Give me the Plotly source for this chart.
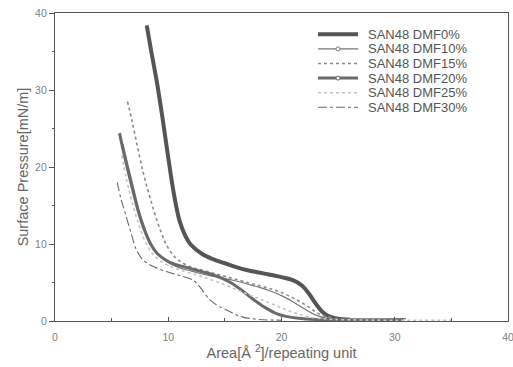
import plotly.graph_objects as go

names = ["SAN48 DMF0%", "SAN48 DMF10%", "SAN48 DMF15%", "SAN48 DMF20%", "SAN48 DMF25%", "SAN48 DMF30%"]

x0 = [8.1, 8.5, 9.0, 9.5, 10.0, 10.5, 11.0, 11.5, 12.0, 13.0, 14.0, 15.0, 16.0, 17.0, 18.0, 19.0, 20.0, 21.0, 21.8, 22.4, 23.0, 23.6, 24.2, 25.0, 26.0]
y0 = [38.4, 35.0, 31.0, 26.3, 21.2, 16.5, 13.0, 11.1, 9.9, 8.7, 8.0, 7.5, 7.0, 6.6, 6.3, 6.0, 5.7, 5.3, 4.6, 3.6, 2.3, 1.2, 0.6, 0.3, 0.2]

x10 = [6.0, 6.4, 6.9, 7.4, 8.0, 8.6, 9.3, 10.0, 11.0, 12.0, 13.0, 14.0, 15.0, 16.0, 17.0, 18.0, 19.0, 20.0, 21.0, 22.0, 23.0, 24.0, 26.0, 28.0, 31.0]
y10 = [23.0, 20.5, 17.5, 14.5, 11.8, 9.8, 8.4, 7.6, 6.9, 6.5, 6.1, 5.8, 5.5, 5.2, 4.8, 4.4, 3.9, 3.3, 2.5, 1.6, 0.8, 0.35, 0.15, 0.1, 0.3]

x15 = [6.4, 6.8, 7.3, 7.8, 8.3, 8.8, 9.3, 9.8, 10.4, 11.0, 12.0, 13.0, 14.0, 15.0, 16.0, 17.0, 18.0, 19.0, 20.0, 21.0, 22.0, 22.8, 23.5, 24.5, 26.0, 28.0]
y15 = [28.5, 26.0, 22.5, 19.2, 16.5, 14.0, 11.8, 10.0, 8.6, 7.8, 7.0, 6.6, 6.2, 5.8, 5.4, 5.0, 4.6, 4.2, 3.7, 3.0, 2.2, 1.4, 0.8, 0.4, 0.2, 0.1]

x20 = [5.7, 6.0, 6.4, 6.9, 7.4, 7.9, 8.4, 9.0, 9.7, 10.5, 11.5, 12.5, 13.5, 14.5, 15.5, 16.3, 17.0, 17.8, 18.6, 19.5, 20.4, 21.5, 23.0, 26.0, 30.8]
y20 = [24.4, 22.3, 19.8, 16.8, 14.0, 11.8, 10.1, 8.8, 8.0, 7.4, 7.0, 6.6, 6.2, 5.7, 5.0, 4.2, 3.4, 2.5, 1.7, 1.0, 0.6, 0.35, 0.2, 0.15, 0.2]

x25 = [5.9, 6.3, 6.8, 7.4, 8.0, 8.7, 9.5, 10.5, 11.5, 12.5, 13.5, 14.5, 15.5, 16.5, 17.5, 18.5, 19.5, 20.5, 21.5, 22.5, 24.0, 26.0, 30.0, 35.0]
y25 = [21.5, 18.5, 15.5, 12.5, 10.2, 8.6, 7.6, 6.9, 6.4, 6.0, 5.5, 5.0, 4.4, 3.8, 3.2, 2.6, 2.0, 1.4, 0.9, 0.5, 0.25, 0.15, 0.1, 0.1]

x30 = [5.5, 5.8, 6.2, 6.7, 7.2, 7.8, 8.8, 9.9, 11.0, 12.2, 12.8, 13.7, 14.5, 15.2, 16.0, 16.6, 18.0, 20.0]
y30 = [18.0, 16.0, 14.0, 11.5, 9.2, 7.9, 7.0, 6.4, 5.9, 5.3, 4.4, 2.7, 1.9, 1.4, 0.8, 0.5, 0.2, 0.1]

xs = [x0, x10, x15, x20, x25, x30]
ys = [y0, y10, y15, y20, y25, y30]
styles = [
    dict(color="#555555", width=4, dash="solid"),
    dict(color="#777777", width=1.2, dash="solid"),
    dict(color="#8a8a8a", width=1.6, dash="dot"),
    dict(color="#6a6a6a", width=3, dash="solid"),
    dict(color="#c4c4c4", width=1.6, dash="dot"),
    dict(color="#6a6a6a", width=1.1, dash="dashdot"),
]
has_circle = [False, True, False, True, False, False]

fig = go.Figure()
for xv, yv, nm, st in zip(xs, ys, names, styles):
    fig.add_trace(go.Scatter(x=xv, y=yv, name=nm, mode="lines", showlegend=False,
                             line=dict(shape="spline", **st)))

# manual legend (compact rows as in the reference)
font = "Liberation Sans, Arial"
row0, gap = 34.3, 14.6  # px from top
plot_top, plot_h = 13, 308
plot_left, plot_w = 55, 453
def px2x(px):
    return (px - plot_left) / plot_w
def py2y(py):
    return (plot_top + plot_h - py) / plot_h

for i, (nm, st) in enumerate(zip(names, styles)):
    yy = py2y(row0 + i * gap)
    fig.add_shape(type="line", xref="paper", yref="paper",
                  x0=px2x(318), x1=px2x(358), y0=yy, y1=yy,
                  line=dict(color=st["color"], width=st["width"], dash=st["dash"]))
    if has_circle[i]:
        cx, cy = 338, row0 + i * gap
        fig.add_shape(type="circle", xref="paper", yref="paper",
                      x0=px2x(cx - 2), x1=px2x(cx + 2), y0=py2y(cy + 2), y1=py2y(cy - 2),
                      line=dict(color=st["color"], width=1), fillcolor="white")
    fig.add_annotation(text=nm, xref="paper", yref="paper", x=px2x(366), y=yy,
                       xanchor="left", yanchor="middle", showarrow=False,
                       font=dict(family=font, size=13, color="#555555"))

axis_common = dict(
    showgrid=False, zeroline=False, showline=True, linecolor="#555555", linewidth=1.2,
    mirror=True, range=[0, 40], dtick=10, tick0=0,
    tickfont=dict(family=font, size=10.5, color="#808080"),
    tickcolor="#555555", ticklabeloverflow="allow", automargin=False,
)

fig.update_xaxes(**axis_common, ticks="inside", ticklen=4, ticklabelstandoff=6,
                 minor=dict(dtick=5, ticks="inside", ticklen=3, tickcolor="#555555"),
                 title=dict(text="Area[Å <sup>2</sup>]/repeating unit", standoff=3,
                            font=dict(family=font, size=14.5, color="#666666")))
fig.update_yaxes(**axis_common, ticks="outside", ticklen=5,
                 minor=dict(dtick=5, ticks="outside", ticklen=2, tickcolor="#555555"),
                 title=dict(text="Surface Pressure[mN/m]", standoff=3,
                            font=dict(family=font, size=14.5, color="#666666")))

fig.update_layout(
    width=513, height=367,
    margin=dict(l=55, r=5, t=13, b=46),
    paper_bgcolor="white", plot_bgcolor="white",
    showlegend=False,
)

fig.write_html("out.html")
